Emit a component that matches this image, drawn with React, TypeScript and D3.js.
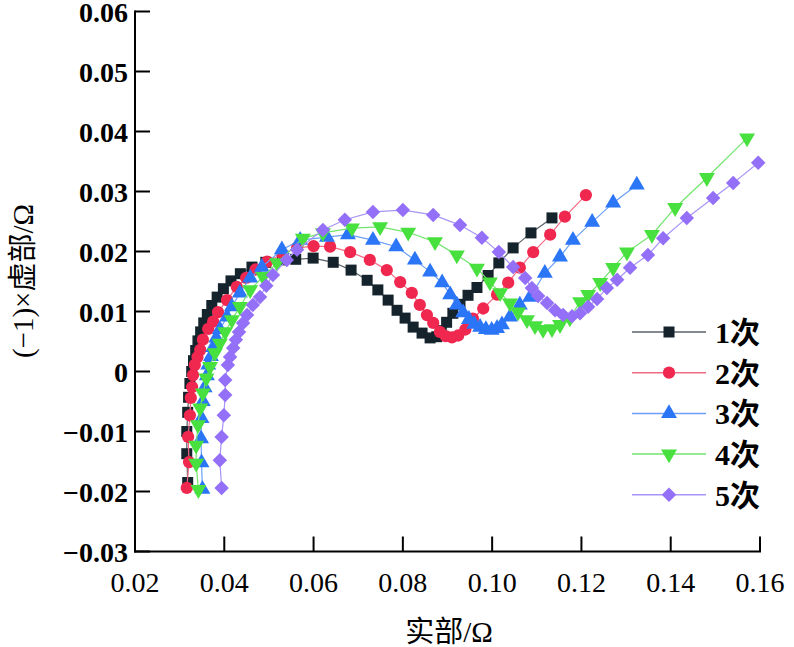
import * as d3 from "d3";
import React from "react";

// 实部 (x) and (-1)×虚部 (y)
const x1 = [0.0318,0.0316,0.0316,0.0318,0.0320,0.0323,0.0327,0.0331,0.0336,0.0341,0.0347,0.0354,0.0362,0.0372,0.0384,0.0398,0.0415,0.0436,0.0462,0.0493,0.0530,0.0560,0.0599,0.0644,0.0684,0.0720,0.0744,0.0767,0.0787,0.0805,0.0823,0.0843,0.0861,0.0876,0.0886,0.0898,0.0912,0.0928,0.0946,0.0966,0.0991,0.1015,0.1047,0.1087,0.1134]
const y1 = [-0.0185,-0.0137,-0.0100,-0.0068,-0.0043,-0.0020,0.0000,0.0018,0.0035,0.0051,0.0066,0.0081,0.0095,0.0110,0.0124,0.0138,0.0151,0.0163,0.0174,0.0182,0.0186,0.0187,0.0189,0.0182,0.0169,0.0152,0.0136,0.0119,0.0102,0.0089,0.0074,0.0064,0.0056,0.0058,0.0068,0.0082,0.0097,0.0112,0.0127,0.0140,0.0160,0.0181,0.0206,0.0231,0.0256]

const x2 = [0.0316,0.0321,0.0319,0.0323,0.0325,0.0328,0.0330,0.0334,0.0340,0.0346,0.0352,0.0364,0.0375,0.0386,0.0406,0.0428,0.0449,0.0470,0.0496,0.0530,0.0563,0.0600,0.0637,0.0682,0.0726,0.0764,0.0794,0.0820,0.0838,0.0854,0.0868,0.0883,0.0896,0.0910,0.0924,0.0940,0.0957,0.0980,0.1011,0.1036,0.1062,0.1092,0.1130,0.1163,0.1210]
const y2 = [-0.0194,-0.0151,-0.0109,-0.0073,-0.0044,-0.0026,-0.0006,0.0011,0.0024,0.0036,0.0053,0.0071,0.0083,0.0099,0.0119,0.0141,0.0156,0.0170,0.0183,0.0196,0.0206,0.0209,0.0208,0.0199,0.0186,0.0169,0.0149,0.0131,0.0111,0.0094,0.0081,0.0066,0.0059,0.0057,0.0060,0.0070,0.0088,0.0105,0.0128,0.0148,0.0173,0.0199,0.0228,0.0258,0.0294]

const x3 = [0.0351,0.0349,0.0348,0.0349,0.0352,0.0356,0.0361,0.0364,0.0370,0.0375,0.0382,0.0390,0.0406,0.0417,0.0435,0.0458,0.0484,0.0529,0.0570,0.0630,0.0677,0.0733,0.0785,0.0827,0.0861,0.0888,0.0906,0.0921,0.0935,0.0948,0.0960,0.0973,0.0986,0.0999,0.1011,0.1022,0.1040,0.1062,0.1085,0.1118,0.1152,0.1181,0.1224,0.1271,0.1324]
const y3 = [-0.0196,-0.0152,-0.0112,-0.0078,-0.0050,-0.0027,-0.0007,0.0011,0.0025,0.0040,0.0056,0.0070,0.0091,0.0108,0.0131,0.0156,0.0174,0.0203,0.0219,0.0224,0.0228,0.0219,0.0208,0.0186,0.0166,0.0148,0.0128,0.0111,0.0098,0.0087,0.0079,0.0074,0.0070,0.0069,0.0072,0.0078,0.0091,0.0111,0.0124,0.0164,0.0191,0.0219,0.0249,0.0281,0.0311]

const x4 = [0.0342,0.0337,0.0337,0.0341,0.0346,0.0352,0.0360,0.0368,0.0379,0.0390,0.0402,0.0417,0.0435,0.0458,0.0487,0.0518,0.0576,0.0621,0.0686,0.0749,0.0812,0.0872,0.0921,0.0966,0.0995,0.1018,0.1040,0.1058,0.1078,0.1096,0.1114,0.1134,0.1152,0.1174,0.1197,0.1215,0.1242,0.1271,0.1302,0.1358,0.1410,0.1481,0.1571]
const y4 = [-0.0197,-0.0153,-0.0123,-0.0089,-0.0061,-0.0036,-0.0011,0.0008,0.0031,0.0047,0.0066,0.0086,0.0108,0.0136,0.0158,0.0181,0.0222,0.0231,0.0239,0.0241,0.0232,0.0216,0.0194,0.0172,0.0149,0.0131,0.0114,0.0099,0.0086,0.0076,0.0070,0.0071,0.0078,0.0089,0.0116,0.0128,0.0148,0.0173,0.0199,0.0228,0.0273,0.0323,0.0389]

const x5 = [0.0394,0.0390,0.0394,0.0399,0.0402,0.0402,0.0408,0.0413,0.0420,0.0426,0.0433,0.0442,0.0451,0.0464,0.0480,0.0494,0.0509,0.0540,0.0563,0.0621,0.0670,0.0733,0.0800,0.0868,0.0928,0.0977,0.1015,0.1047,0.1074,0.1089,0.1103,0.1123,0.1141,0.1159,0.1179,0.1197,0.1215,0.1235,0.1257,0.1280,0.1309,0.1349,0.1383,0.1436,0.1495,0.1540,0.1596]
const y5 = [-0.0194,-0.0148,-0.0109,-0.0073,-0.0039,-0.0014,0.0011,0.0024,0.0039,0.0053,0.0066,0.0081,0.0094,0.0111,0.0124,0.0143,0.0161,0.0186,0.0203,0.0236,0.0253,0.0266,0.0269,0.0261,0.0244,0.0223,0.0199,0.0174,0.0156,0.0139,0.0126,0.0114,0.0102,0.0094,0.0092,0.0097,0.0108,0.0121,0.0139,0.0153,0.0173,0.0194,0.0222,0.0256,0.0289,0.0314,0.0348]

const seriesNames = ["1次", "2次", "3次", "4次", "5次"]
const xTicks = [0.02, 0.04, 0.06, 0.08, 0.10, 0.12, 0.14, 0.16]
const yTicks = [-0.03, -0.02, -0.01, 0, 0.01, 0.02, 0.03, 0.04, 0.05, 0.06]

const markColors = ["#15232c", "#f0274f", "#2b75f7", "#47e03e", "#9370f7"]
const lineColors = ["#5a6268", "#f36a85", "#6b9ff7", "#72e46c", "#a994f7"]

const W = 794, H = 647
const x = d3.scaleLinear().domain([0.02, 0.16]).range([135, 760])
const y = d3.scaleLinear().domain([-0.03, 0.06]).range([551.5, 11.5])

const symbols = [
  d3.symbol(d3.symbolSquare, 121)(),
  d3.symbol(d3.symbolCircle, 118)(),
  d3.symbol(d3.symbolTriangle, 110)(),
  d3.symbol(d3.symbolTriangle, 110)(),
  d3.symbol(d3.symbolSquare, 105)(),
]
const symRot = [0, 0, 0, 180, 45]

const serif = "Liberation Serif, Times New Roman, serif"
const cjkSerif = "Liberation Serif, Noto Sans CJK SC, serif"

function Marker({ i, cx, cy }: { i: number, cx: number, cy: number }) {
  return <path d={symbols[i] as string} fill={markColors[i]}
    transform={`translate(${cx},${cy}) rotate(${symRot[i]})`} />
}

export default function App() {
  const all = [[x1, y1], [x2, y2], [x3, y3], [x4, y4], [x5, y5]]

  return (
    <svg width={W} height={H} style={{ position: "absolute", left: 0, top: 0, background: "#fff" }}>
      {all.map(([xs, ys], i) => {
        const pts = xs.map((v, k) => [x(v), y(ys[k])] as [number, number])
        return (
          <g key={i}>
            <path d={d3.line()(pts) as string} fill="none" stroke={lineColors[i]} strokeWidth={1.2} />
            {pts.map((p, k) => <Marker key={k} i={i} cx={p[0]} cy={p[1]} />)}
          </g>
        )
      })}

      {/* axes */}
      <line x1={135} x2={135} y1={10.5} y2={552.5} stroke="#000" strokeWidth={2} />
      <line x1={134} x2={761} y1={551.5} y2={551.5} stroke="#000" strokeWidth={2} />
      {yTicks.map(t => (
        <g key={t}>
          <line x1={135} x2={150} y1={y(t)} y2={y(t)} stroke="#000" strokeWidth={2} />
          <text x={128} y={y(t) + 1} dy="0.34em" textAnchor="end" fontFamily={serif} fontWeight="bold" fontSize={28}>
            {t === 0 ? "0" : (t < 0 ? "\u2212" : "") + Math.abs(t).toFixed(2)}
          </text>
        </g>
      ))}
      {xTicks.map(t => (
        <g key={t}>
          <line x1={x(t)} x2={x(t)} y1={551.5} y2={536.5} stroke="#000" strokeWidth={2} />
          <text x={x(t)} y={592} textAnchor="middle" fontFamily={serif} fontSize={28}>
            {t.toFixed(2)}
          </text>
        </g>
      ))}

      <text x={449} y={642} textAnchor="middle" fontFamily={cjkSerif} fontSize={29}>实部/Ω</text>
      <text transform="translate(33,281) rotate(-90)" textAnchor="middle" fontFamily={cjkSerif} fontSize={29}>(−1)×虚部/Ω</text>

      {/* legend */}
      {seriesNames.map((name, i) => {
        const ly = 332 + i * 40.7
        return (
          <g key={name}>
            <line x1={632} x2={706} y1={ly} y2={ly} stroke={lineColors[i]} strokeWidth={1.5} />
            <Marker i={i} cx={669} cy={ly} />
            <text x={715} y={ly + 11} fontFamily={cjkSerif} fontWeight="bold" fontSize={30}>{name}</text>
          </g>
        )
      })}
    </svg>
  )
}
